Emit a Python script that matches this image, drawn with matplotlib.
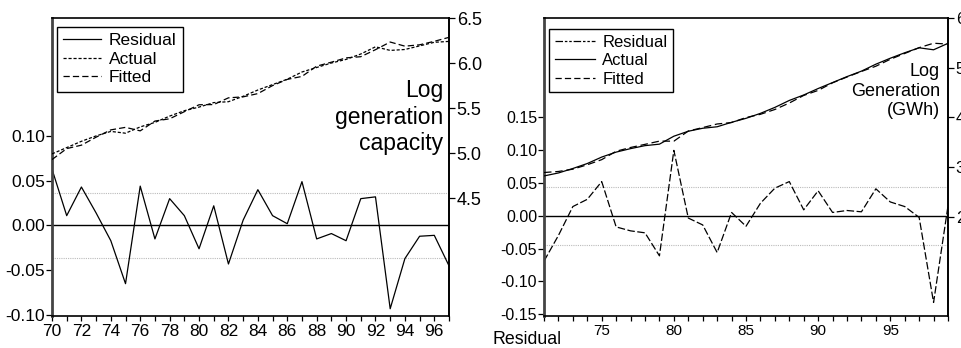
import matplotlib
matplotlib.use('Agg')
import matplotlib.pyplot as plt
from matplotlib.ticker import MultipleLocator, FixedLocator, FixedFormatter
from matplotlib.lines import Line2D

plt.rcParams['font.family'] = ['Liberation Sans', 'DejaVu Sans']

# ---------------- Left panel: generation capacity ----------------
years_cap = [70, 71, 72, 73, 74, 75, 76, 77, 78, 79, 80, 81, 82, 83,
             84, 85, 86, 87, 88, 89, 90, 91, 92, 93, 94, 95, 96, 97]
resid_cap = [0.063, 0.011, 0.043, 0.014, -0.017, -0.065, 0.044, -0.015,
             0.030, 0.011, -0.026, 0.022, -0.043, 0.006, 0.040, 0.011,
             0.002, 0.049, -0.015, -0.009, -0.017, 0.030, 0.032, -0.093,
             -0.037, -0.012, -0.011, -0.045]
actual_cap = [4.99, 5.06, 5.13, 5.19, 5.24, 5.22, 5.29, 5.34, 5.41, 5.47,
              5.51, 5.56, 5.57, 5.63, 5.70, 5.76, 5.82, 5.90, 5.95, 6.00,
              6.04, 6.10, 6.18, 6.14, 6.15, 6.19, 6.23, 6.24]
fitted_cap = [4.927, 5.049, 5.087, 5.176, 5.257, 5.285, 5.246, 5.355,
              5.380, 5.459, 5.536, 5.538, 5.613, 5.624, 5.660, 5.749,
              5.818, 5.851, 5.965, 6.009, 6.057, 6.070, 6.148, 6.233,
              6.187, 6.202, 6.241, 6.285]
se_cap = 0.036
cap_left_ticks = [-0.10, -0.05, 0.00, 0.05, 0.10]
cap_left_labels = ['-0.10', '-0.05', '0.00', '0.05', '0.10']
cap_right_ticks = [4.5, 5.0, 5.5, 6.0, 6.5]
cap_right_labels = ['4.5', '5.0', '5.5', '6.0', '6.5']
cap_x_ticks = [70, 72, 74, 76, 78, 80, 82, 84, 86, 88, 90, 92, 94, 96]
cap_x_labels = ['70', '72', '74', '76', '78', '80', '82', '84', '86',
                '88', '90', '92', '94', '96']

# ---------------- Right panel: generation ----------------
years_gen = [71, 72, 73, 74, 75, 76, 77, 78, 79, 80, 81, 82, 83, 84, 85,
             86, 87, 88, 89, 90, 91, 92, 93, 94, 95, 96, 97, 98, 99]
resid_gen = [-0.069, -0.030, 0.014, 0.025, 0.052, -0.017, -0.023, -0.026,
             -0.061, 0.0995, -0.0035, -0.014, -0.056, 0.005, -0.016,
             0.019, 0.042, 0.052, 0.009, 0.038, 0.005, 0.008, 0.006,
             0.041, 0.021, 0.014, -0.0025, -0.132, 0.015]
actual_gen = [2.82, 2.88, 2.97, 3.07, 3.20, 3.30, 3.37, 3.43, 3.46, 3.62,
              3.72, 3.78, 3.81, 3.90, 3.98, 4.08, 4.20, 4.34, 4.45, 4.58,
              4.70, 4.82, 4.93, 5.07, 5.19, 5.30, 5.40, 5.36, 5.49]
fitted_gen = [2.889, 2.910, 2.956, 3.045, 3.148, 3.317, 3.393, 3.456,
              3.521, 3.520, 3.724, 3.794, 3.866, 3.895, 3.996, 4.061,
              4.158, 4.288, 4.441, 4.542, 4.695, 4.812, 4.924, 5.029,
              5.169, 5.286, 5.403, 5.492, 5.475]
se_gen = 0.044
gen_left_ticks = [-0.15, -0.10, -0.05, 0.00, 0.05, 0.10, 0.15]
gen_left_labels = ['-0.15', '-0.10', '-0.05', '0.00', '0.05', '0.10', '0.15']
gen_right_ticks = [2, 3, 4, 5, 6]
gen_right_labels = ['2', '3', '4', '5', '6']
gen_x_ticks = [75, 80, 85, 90, 95]
gen_x_labels = ['75', '80', '85', '90', '95']

W, H = 961, 348
fig = plt.figure(figsize=(W / 100, H / 100), dpi=100)

def style_axes(ax, axr, xfs, yfs, rfs):
    for s in ['top', 'right', 'bottom']:
        ax.spines[s].set_linewidth(1.2)
        ax.spines[s].set_color('black')
    ax.spines['left'].set_linewidth(2.0)
    ax.spines['left'].set_color('#444444')
    for s in axr.spines.values():
        s.set_visible(False)
    axr.spines['right'].set_visible(True)
    axr.spines['right'].set_linewidth(1.2)
    ax.tick_params(axis='x', which='major', direction='out', length=3.5,
                   width=0.9, labelsize=xfs, pad=2)
    ax.tick_params(axis='x', which='minor', direction='out', length=3.5,
                   width=0.9)
    ax.tick_params(axis='y', direction='out', length=4, width=0.9,
                   labelsize=yfs, pad=1)
    axr.tick_params(axis='y', direction='out', length=4, width=0.9,
                    labelsize=rfs, pad=1.5)

# ---- left panel
ax1 = fig.add_axes([52 / W, 32 / H, 397 / W, 298 / H])
ax1r = ax1.twinx()
ax1.set_xlim(70, 97)
ax1.set_ylim(-0.1011, 0.2318)
ax1r.set_ylim(3.189, 6.5)
ax1.axhline(0, color='black', lw=1.0, zorder=1)
ax1.axhline(se_cap, color='#bbbbbb', lw=0.8, ls=(0, (1, 1)), zorder=1)
ax1.axhline(-se_cap, color='#bbbbbb', lw=0.8, ls=(0, (1, 1)), zorder=1)
ax1.plot(years_cap, resid_cap, color='black', lw=0.9)
ax1r.plot(years_cap, actual_cap, color='black', lw=0.9, ls=(0, (2.5, 1.5)))
ax1r.plot(years_cap, fitted_cap, color='black', lw=0.9, ls=(0, (5, 2.5)))
ax1.xaxis.set_major_locator(FixedLocator(cap_x_ticks))
ax1.xaxis.set_major_formatter(FixedFormatter(cap_x_labels))
ax1.xaxis.set_minor_locator(MultipleLocator(1))
ax1.yaxis.set_major_locator(FixedLocator(cap_left_ticks))
ax1.yaxis.set_major_formatter(FixedFormatter(cap_left_labels))
ax1r.yaxis.set_major_locator(FixedLocator(cap_right_ticks))
ax1r.yaxis.set_major_formatter(FixedFormatter(cap_right_labels))
style_axes(ax1, ax1r, 12.5, 12.5, 13)

h1 = [Line2D([], [], color='black', lw=0.9),
      Line2D([], [], color='black', lw=0.9, ls=(0, (2.5, 1.5))),
      Line2D([], [], color='black', lw=0.9, ls=(0, (5, 2.5)))]
leg1 = ax1r.legend(h1, ['Residual', 'Actual', 'Fitted'], loc='upper left',
                   bbox_to_anchor=(5 / 397, 1 - 9 / 298), borderaxespad=0,
                   fancybox=False, edgecolor='black', framealpha=1,
                   fontsize=12.5, handlelength=2.2, handletextpad=0.45,
                   labelspacing=0.2, borderpad=0.35)
leg1.get_frame().set_linewidth(1.0)
fig.text(443 / W, 1 - 117 / H, 'Log\ngeneration\ncapacity', ha='right',
         va='center', multialignment='right', fontsize=16.5, linespacing=1.2)

# ---- right panel
ax2 = fig.add_axes([544 / W, 32 / H, 404 / W, 298 / H])
ax2r = ax2.twinx()
ax2.set_xlim(71, 99)
ax2.set_ylim(-0.1526, 0.301)
ax2r.set_ylim(0, 6)
ax2.axhline(0, color='black', lw=1.0, zorder=1)
ax2.axhline(se_gen, color='#bbbbbb', lw=0.8, ls=(0, (1, 1)), zorder=1)
ax2.axhline(-se_gen, color='#bbbbbb', lw=0.8, ls=(0, (1, 1)), zorder=1)
ax2.plot(years_gen, resid_gen, color='black', lw=0.9, ls=(0, (6, 2)))
ax2r.plot(years_gen, actual_gen, color='black', lw=0.9)
ax2r.plot(years_gen, fitted_gen, color='black', lw=0.9, ls=(0, (6, 3)))
ax2.xaxis.set_major_locator(FixedLocator(gen_x_ticks))
ax2.xaxis.set_major_formatter(FixedFormatter(gen_x_labels))
ax2.xaxis.set_minor_locator(MultipleLocator(1))
ax2.yaxis.set_major_locator(FixedLocator(gen_left_ticks))
ax2.yaxis.set_major_formatter(FixedFormatter(gen_left_labels))
ax2r.yaxis.set_major_locator(FixedLocator(gen_right_ticks))
ax2r.yaxis.set_major_formatter(FixedFormatter(gen_right_labels))
style_axes(ax2, ax2r, 11, 11.5, 12)

h2 = [Line2D([], [], color='black', lw=0.9, ls=(0, (6, 1.5, 2, 1.5, 2, 1.5))),
      Line2D([], [], color='black', lw=0.9),
      Line2D([], [], color='black', lw=0.9, ls=(0, (5, 2.5)))]
leg2 = ax2r.legend(h2, ['Residual', 'Actual', 'Fitted'], loc='upper left',
                   bbox_to_anchor=(5 / 404, 1 - 11 / 298), borderaxespad=0,
                   fancybox=False, edgecolor='black', framealpha=1,
                   fontsize=12, handlelength=2.4, handletextpad=0.45,
                   labelspacing=0.2, borderpad=0.35)
leg2.get_frame().set_linewidth(1.0)
fig.text(940 / W, 1 - 91 / H, 'Log\nGeneration\n(GWh)', ha='right',
         va='center', multialignment='right', fontsize=13, linespacing=1.2)
fig.text(493 / W, 1 - 340 / H, 'Residual', ha='left', va='center',
         fontsize=12.8)

fig.savefig('out.png', dpi=100)
